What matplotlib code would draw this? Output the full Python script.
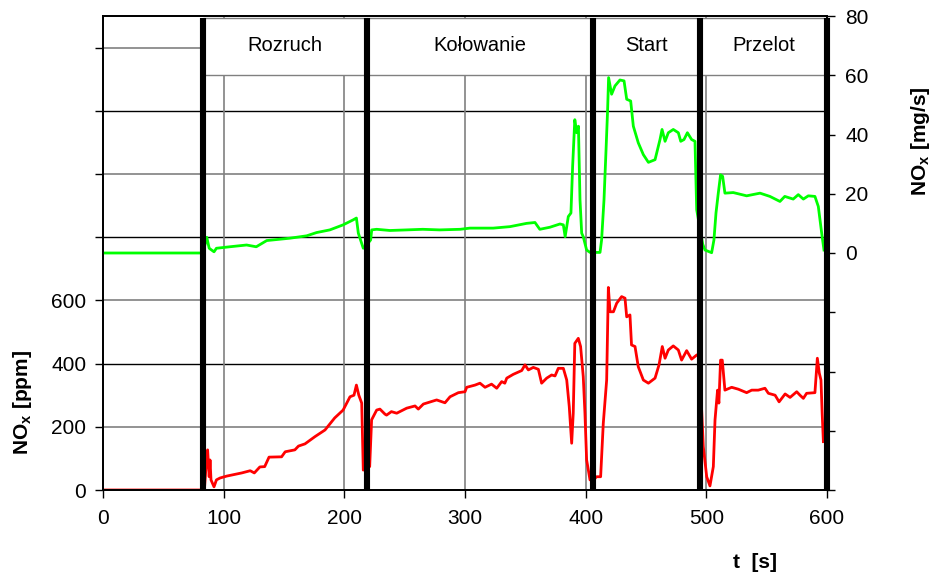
import matplotlib
matplotlib.use("Agg")
import matplotlib.pyplot as plt
from matplotlib.patches import Rectangle

plt.rcParams['font.family'] = ['Liberation Sans', 'DejaVu Sans']
plt.rcParams['mathtext.fontset'] = 'custom'
plt.rcParams['mathtext.rm'] = 'Liberation Sans'
plt.rcParams['mathtext.bf'] = 'Liberation Sans:bold'

# ---- data ----
t_red = [0, 82, 84, 85.5, 86.7, 88, 88.7, 89.5, 92, 94, 97, 102.5, 115, 122, 125.4, 130, 134,
         137.6, 148, 151, 159, 162, 167.4, 175.7, 184, 192, 199, 204.7, 208, 210, 212, 214.4,
         215.7, 219, 221, 222.6, 226.8, 229.5, 233.7, 235, 239, 243.4, 251.7, 258.6, 261.3,
         265.5, 276.5, 283.4, 287.6, 294.5, 300, 301.4, 308.3, 312.4, 316.6, 322, 326.3, 330.4,
         333, 334.6, 340, 347, 349.7, 352.5, 356.6, 360.8, 363.5, 367.7, 371.8, 374.6, 377.3,
         381.5, 384.3, 386.4, 388.4, 389.7, 391, 393.9, 395.8, 398, 399.4, 400.8, 403.6, 406,
         409, 412.4, 414.6, 417.4, 418.8, 420.2, 423, 425.7, 429.8, 432.6, 434, 436.7, 438,
         440.9, 443.6, 447.8, 452, 457.5, 460.8, 463.5, 465.8, 468.5, 472.6, 476.8, 479.5,
         483.7, 487.8, 492, 494, 497.5, 500.3, 503, 505.8, 507.2, 509.3, 510.4, 511.8, 513.2,
         515.4, 521, 526.5, 533.4, 537.6, 543, 548.6, 551.4, 557, 560.3, 565.3, 569.4, 574.9,
         577.6, 580.4, 583.1, 590, 592, 593.6, 595, 596, 597]
nox_ppm = [0, 0, 0, 80, 127, 42, 95, 32, 10, 32, 38, 44, 54, 61, 54, 73, 74,
           104, 105, 121, 127, 139, 146, 169, 190, 228, 253, 295, 300, 332, 300, 275,
           63, 80, 74, 222, 253, 256, 240, 237, 248, 243, 259, 266, 256,
           272, 285, 276, 295, 308, 311, 325, 332, 338, 325, 335, 322, 343,
           338, 354, 366, 378, 396, 380, 388, 382, 338, 354, 364, 361, 385,
           385, 348, 264, 148, 243, 464, 480, 454, 359, 243, 95, 32, 30,
           42, 42, 211, 348, 641, 564, 564, 591, 612, 607, 548, 554, 459,
           454, 390, 348, 338, 354, 396, 454, 417, 443, 456, 443, 411,
           441, 414, 427, 430, 137, 42, 13, 74, 222, 316, 275, 411, 411,
           316, 325, 319, 308, 316, 316, 322, 306, 300, 279, 304, 293, 311,
           300, 290, 306, 308, 417, 370, 348, 243, 153]

t_green = [0, 82, 84, 86, 88, 92, 94, 105, 119, 127, 135.7, 155, 168.8, 177, 188, 199, 207.4,
           210, 211.6, 215.7, 219, 221.8, 222.7, 226.8, 237.8, 251.7, 265, 279, 296, 304,
           323.4, 337.3, 351, 358, 362, 370.4, 378.7, 381.5, 383, 385.6, 387.8, 389.2, 391,
           392.6, 394, 395.3, 396.7, 398, 400.8, 403.6, 411.9, 413.2, 415.2, 416.9, 418.2,
           419, 421.5, 424.3, 428.4, 431.8, 434, 437.3, 439.5, 443.6, 447.8, 452, 457.5,
           461.6, 463.3, 465.8, 468.5, 472.6, 476.8, 478.8, 481.5, 484.3, 487.8, 490.6, 492,
           497, 498.9, 504.4, 506.3, 508, 509.9, 511.8, 513.5, 515.4, 522.3, 533.4, 544.5,
           552.7, 561, 565, 572, 576.2, 580.4, 584.5, 590, 592.8, 595.6, 597.5]
nox_mgs = [0, 0, 2, 5.3, 1.6, 0.4, 1.6, 2.1, 2.7, 2.1, 4.2, 5, 5.8, 6.9, 7.8, 9.5, 11.2,
           11.8, 6.7, 1.6, 3, 4.4, 7.8, 8, 7.6, 7.8, 8, 7.8, 8, 8.4,
           8.4, 8.9, 10, 10.3, 8, 8.7, 9.8, 9.5, 5.5, 12.3, 13.5, 29.3, 45,
           40.6, 42.8, 18, 6.7, 5.5, 1, 0.2, 0.2, 4.4, 18, 35, 48.5,
           59.2, 53.6, 56.4, 58.4, 58.1, 51.9, 51.3, 42.8, 37.2, 33.2, 30.6, 31.5,
           38.3, 41.7, 37.7, 40.6, 41.7, 40.6, 37.7, 38.3, 40.6, 38.3, 37.7, 14.6,
           3, 1, 0.1, 4.4, 13.5, 20.2, 26.4, 25.9, 20.2, 20.4, 19.3, 20.2,
           19.1, 17.4, 19.1, 18.2, 19.7, 18.2, 19.3, 19.1, 15.7, 6.7, 1]

phase_bounds = [82.9, 218.5, 406.3, 494.7, 600]
phase_names = ["Rozruch", "Kołowanie", "Start", "Przelot"]

x_ticks = [0, 100, 200, 300, 400, 500, 600]
ppm_ticks = [0, 200, 400, 600, 800, 1000, 1200, 1400]
ppm_labels = ["0", "200", "400", "600", "", "", "", ""]
mgs_ticks = [-80, -60, -40, -20, 0, 20, 40, 60, 80]
mgs_labels = ["", "", "", "", "0", "20", "40", "60", "80"]
grid_black = [400, 800, 1200]
grid_grey = [200, 600, 1000, 1400]

# ---- figure ----
fig = plt.figure(figsize=(9.35, 5.75), dpi=100)
ax = fig.add_axes([103/935, 1-490/575, 724/935, 474/575])
ax.set_xlim(0, 600)
ax.set_ylim(0, 1500)
ax2 = ax.twinx()
ax2.set_ylim(-80, 80)

grey = '#808080'
for v in grid_grey:
    ax.axhline(v, color=grey, lw=1.2, zorder=1)
for v in grid_black:
    ax.axhline(v, color='black', lw=1.0, zorder=1)
for v in x_ticks[1:-1]:
    ax.axvline(v, color=grey, lw=1.2, zorder=1)

ax.plot(t_red, nox_ppm, color='#ff0000', lw=2.0, zorder=3)

# phase boxes
box_bottom, box_top = 60, 79.4
for i, name in enumerate(phase_names):
    x0, x1 = phase_bounds[i], phase_bounds[i+1]
    ax2.add_patch(Rectangle((x0, box_bottom), x1-x0, box_top-box_bottom,
                            facecolor='white', edgecolor=grey, lw=1.0, zorder=1))
    ax2.text((x0+x1)/2, 70, name, ha='center', va='center', fontsize=14.5, zorder=5)

ax2.plot(t_green, nox_mgs, color='#00ff00', lw=2.0, zorder=3)
for b in phase_bounds:
    ax2.plot([b, b], [-80, box_top], color='black', lw=4.4, zorder=4,
             solid_capstyle='butt', clip_on=False)

ax.set_xticks(x_ticks)
ax.set_xticklabels([str(v) for v in x_ticks])
ax.set_yticks(ppm_ticks)
ax.set_yticklabels(ppm_labels)
ax2.set_yticks(mgs_ticks)
ax2.set_yticklabels(mgs_labels)

ax.tick_params(axis='x', direction='out', length=6, width=1, labelsize=15, pad=8)
ax.tick_params(axis='y', direction='out', length=6, width=1, labelsize=15, pad=6)
ax2.tick_params(axis='y', direction='out', length=6, width=1, labelsize=15, pad=7)

for a in (ax, ax2):
    for s in a.spines.values():
        s.set_color('black')
        s.set_linewidth(1.3)
        s.set_zorder(6)

fig.text(22/935, 1-403/575, r'NO$_\mathbf{x}$ [ppm]', rotation=90, ha='center', va='center',
         fontsize=15, fontweight='bold')
fig.text(921/935, 1-141/575, r'NO$_\mathbf{x}$ [mg/s]', rotation=90, ha='center', va='center',
         fontsize=15, fontweight='bold')
fig.text(755/935, 1-563/575, 't  [s]', ha='center', va='center', fontsize=15, fontweight='bold')

fig.savefig('out.png', dpi=100)
